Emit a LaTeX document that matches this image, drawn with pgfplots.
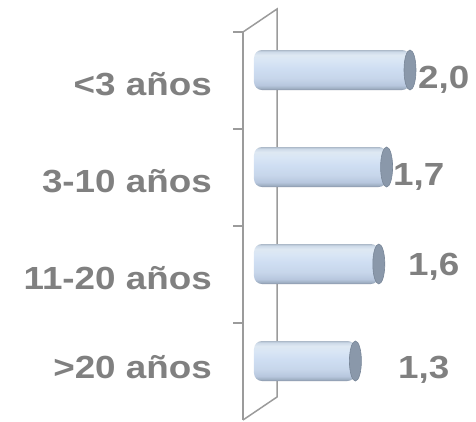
\documentclass[border=0pt]{standalone}
\usepackage{pgfplots}
\usepackage{pgfplotstable}
\pgfplotsset{compat=1.18}
\usepackage{fontspec}
\setmainfont{Liberation Sans}
\newfontfamily\lab[FakeStretch=1.15]{Liberation Sans}
\definecolor{txt}{RGB}{128,128,128}
\definecolor{framec}{RGB}{155,155,155}
\definecolor{capfill}{RGB}{138,152,170}
\definecolor{capedge}{RGB}{120,134,152}
\pgfdeclareverticalshading{cyl}{100bp}{%
 rgb(0bp)=(0.52,0.57,0.64);
 rgb(25bp)=(0.52,0.57,0.64);
 rgb(27bp)=(0.62,0.68,0.76);
 rgb(31bp)=(0.72,0.78,0.87);
 rgb(40bp)=(0.78,0.84,0.92);
 rgb(52bp)=(0.81,0.87,0.95);
 rgb(62bp)=(0.85,0.90,0.96);
 rgb(69bp)=(0.87,0.91,0.95);
 rgb(73bp)=(0.80,0.85,0.91);
 rgb(75bp)=(0.68,0.73,0.79);
 rgb(100bp)=(0.68,0.73,0.79)}
\pgfplotstableread{
idx value
0 2.0
1 1.7
2 1.6
3 1.3
}\data
\begin{document}
\begin{tikzpicture}
\useasboundingbox (0,0) rectangle (476pt,421pt);
\begin{axis}[
  at={(243pt,1pt)}, anchor=south west,
  scale only axis, width=237.2pt, height=388pt,
  xmin=-0.141, xmax=2.9, ymin=-0.5, ymax=3.5,
  y dir=reverse,
  clip=false,
  axis x line=none,
  axis y line*=left,
  y axis line style={draw=framec, line width=1.5pt, -},
  ytick={0,1,2,3},
  yticklabels={{<3 años},{3-10 años},{11-20 años},{\raisebox{8pt}{>20 años}}},
  major tick length=0pt,
  tick align=outside,
  extra y ticks={-0.5,0.5,1.5,2.5},
  extra y tick labels={},
  extra y tick style={major tick length=10pt, tick style={draw=framec, line width=1.5pt}},
  yticklabel style={font={\lab\bfseries\fontsize{32}{38}\selectfont}, text=txt,
    anchor=base east, inner sep=0pt, xshift=-31pt, yshift=-14.5pt},
  cyl/.style={xbar, bar width=40pt, bar shift=10.5pt, draw=none, shade, shading=cyl, rounded corners=8pt},
]
% back wall
\draw[framec, line width=1.5pt]
  (axis cs:-0.141,-0.5) -- ++(34pt,23pt) -- ([xshift=34pt,yshift=23pt]axis cs:-0.141,3.5) -- (axis cs:-0.141,3.5);
% bars (one plot per bar so that each gets its own shading)
\addplot[cyl] table[x=value, y=idx, skip coords between index={1}{4}]{\data};
\addplot[cyl] table[x=value, y=idx, skip coords between index={0}{1}, skip coords between index={2}{4}]{\data};
\addplot[cyl] table[x=value, y=idx, skip coords between index={0}{2}, skip coords between index={3}{4}]{\data};
\addplot[cyl] table[x=value, y=idx, skip coords between index={0}{3}]{\data};
% caps
\addplot[only marks, mark=*, mark size=20pt,
  mark options={yshift=10.5pt, xscale=0.3, fill=capfill, draw=capedge, line width=0.6pt}]
  table[x=value, y=idx]{\data};
% value labels
\tikzset{vl/.style={anchor=base west, inner sep=0pt, text=txt, font={\lab\bfseries\fontsize{32}{38}\selectfont}}}
\node[vl, xshift=8pt, yshift=-7.5pt] at (axis cs:2.0,0) {2,0};
\node[vl, xshift=6.4pt, yshift=-7.5pt] at (axis cs:1.7,1) {1,7};
\node[vl, xshift=29.2pt, yshift=-0.5pt] at (axis cs:1.6,2) {1,6};
\node[vl, xshift=42.6pt, yshift=-6.5pt] at (axis cs:1.3,3) {1,3};
\end{axis}
\end{tikzpicture}
\end{document}
